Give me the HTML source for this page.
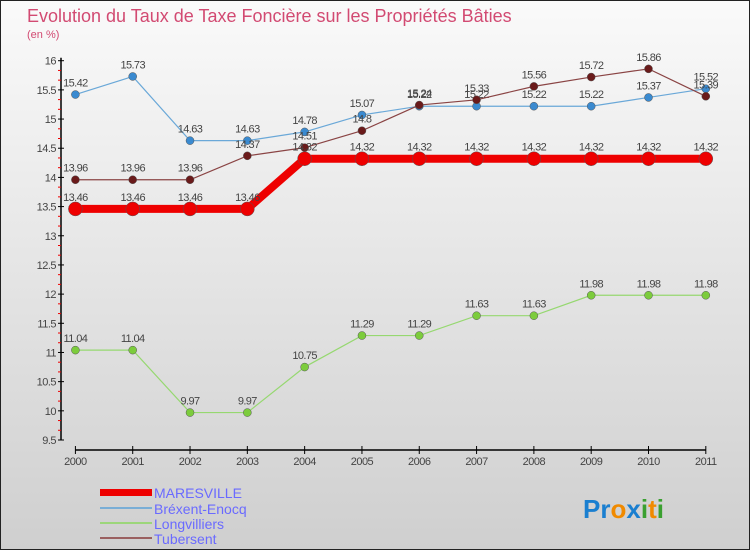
<!DOCTYPE html>
<html><head><meta charset="utf-8"><style>
body{margin:0}
#c{width:750px;height:550px;position:relative;background:linear-gradient(#fafafa,#cfcfcf);box-sizing:border-box;border:1px solid #222;font-family:"Liberation Sans",sans-serif;overflow:hidden}
</style></head><body>
<div id="c">
<svg id="s" width="750" height="550" style="position:absolute;left:-1px;top:-1px">
<text x="27" y="22" font-size="18" fill="#d24a72">Evolution du Taux de Taxe Foncière sur les Propriétés Bâties</text>
<text x="27" y="38" font-size="11" fill="#d24a72">(en %)</text>
<g id="ax"></g><g id="series"></g>
<g>
<rect x="100" y="489" width="52" height="7" fill="#e00"/>
<text x="154" y="498" font-size="14" fill="#6a6aff">MARESVILLE</text>
<rect x="100" y="507" width="52" height="2" fill="#7aaed6"/>
<text x="154" y="514" font-size="14" fill="#6a6aff">Bréxent-Enocq</text>
<rect x="100" y="522" width="52" height="2" fill="#9cd67a"/>
<text x="154" y="529" font-size="14" fill="#6a6aff">Longvilliers</text>
<rect x="100" y="537" width="52" height="2" fill="#9a6060"/>
<text x="154" y="544" font-size="14" fill="#6a6aff">Tubersent</text>
</g>
<text x="583" y="518" font-size="26" font-weight="bold"><tspan fill="#1a7fd0">Pr</tspan><tspan fill="#f08a00">o</tspan><tspan fill="#1a7fd0">x</tspan><tspan fill="#3aa030">i</tspan><tspan fill="#f08a00">t</tspan><tspan fill="#3aa030">i</tspan></text>
</svg></div>
<script>
const years=[2000,2001,2002,2003,2004,2005,2006,2007,2008,2009,2010,2011];
const yTicks=[9.5,10,10.5,11,11.5,12,12.5,13,13.5,14,14.5,15,15.5,16];
const maresville=[13.46,13.46,13.46,13.46,14.32,14.32,14.32,14.32,14.32,14.32,14.32,14.32];
const brexent=[15.42,15.73,14.63,14.63,14.78,15.07,15.22,15.22,15.22,15.22,15.37,15.52];
const longvilliers=[11.04,11.04,9.97,9.97,10.75,11.29,11.29,11.63,11.63,11.98,11.98,11.98];
const tubersent=[13.96,13.96,13.96,14.37,14.51,14.8,15.24,15.33,15.56,15.72,15.86,15.39];
const NS="http://www.w3.org/2000/svg";
const X=i=>75.4+i*57.31;
const Y=v=>440-(v-9.5)*(379.3/6.5);
function mk(t,a,p){const e=document.createElementNS(NS,t);for(const k in a)e.setAttribute(k,a[k]);p.appendChild(e);return e;}
const ax=document.getElementById('ax');
const yl=mk('line',{x1:61,y1:Y(16)-3,x2:61,y2:440,stroke:'#000','stroke-width':1.5},ax);


yTicks.forEach((v,i)=>{
 mk('line',{x1:58,x2:64,y1:Y(v),y2:Y(v),stroke:'#000'},ax);
 if(i<yTicks.length-1){for(let k=1;k<3;k++){const yy=Y(v)-k*Y(9.5)/1+k*Y(10)/1;mk('line',{x1:58,x2:61,y1:Y(v+k*0.5/3),y2:Y(v+k*0.5/3),stroke:'#e00'},ax);}}
 const t=mk('text',{x:56,y:Y(v)+4,'font-size':11,fill:'#444','text-anchor':'end','letter-spacing':'-0.5'},ax);t.textContent=String(v);
 
 
});
const xl=mk('line',{x1:X(0),x2:X(11),y1:450,y2:450,stroke:'#000','stroke-width':1.5},ax);


years.forEach((yr,i)=>{
 mk('line',{x1:X(i),x2:X(i),y1:446,y2:454,stroke:'#000'},ax);
 const t=mk('text',{x:X(i),y:465,'font-size':11,fill:'#444','text-anchor':'middle','letter-spacing':'-0.5'},ax);t.textContent=String(yr);
 
 
});
const sg=document.getElementById('series');
function series(name,vals,col,dot,w,r){
 const g=mk('g',{},sg);
 
 
 mk('polyline',{points:vals.map((v,i)=>X(i)+','+Y(v)).join(' '),fill:'none',stroke:col,'stroke-width':w},g);
 vals.forEach((v,i)=>{
  const c=mk('circle',{cx:X(i),cy:Y(v),r:r,fill:dot,stroke:'#555','stroke-width':0.5},g);
  
  
  const t=mk('text',{x:X(i),y:Y(v)-8,'font-size':11,fill:'#444','text-anchor':'middle','letter-spacing':'-0.6'},g);t.textContent=String(v);
  
  
 });
}
series('brexent',brexent,'#6aa8d8','#3a8ad0',1.2,4);
series('longvilliers',longvilliers,'#96d870','#7ccc3c',1.2,4);
series('tubersent',tubersent,'#8a4444','#6a1a1a',1.2,4);
series('maresville',maresville,'#e00','#e00',8,7);
</script>
</body></html>
